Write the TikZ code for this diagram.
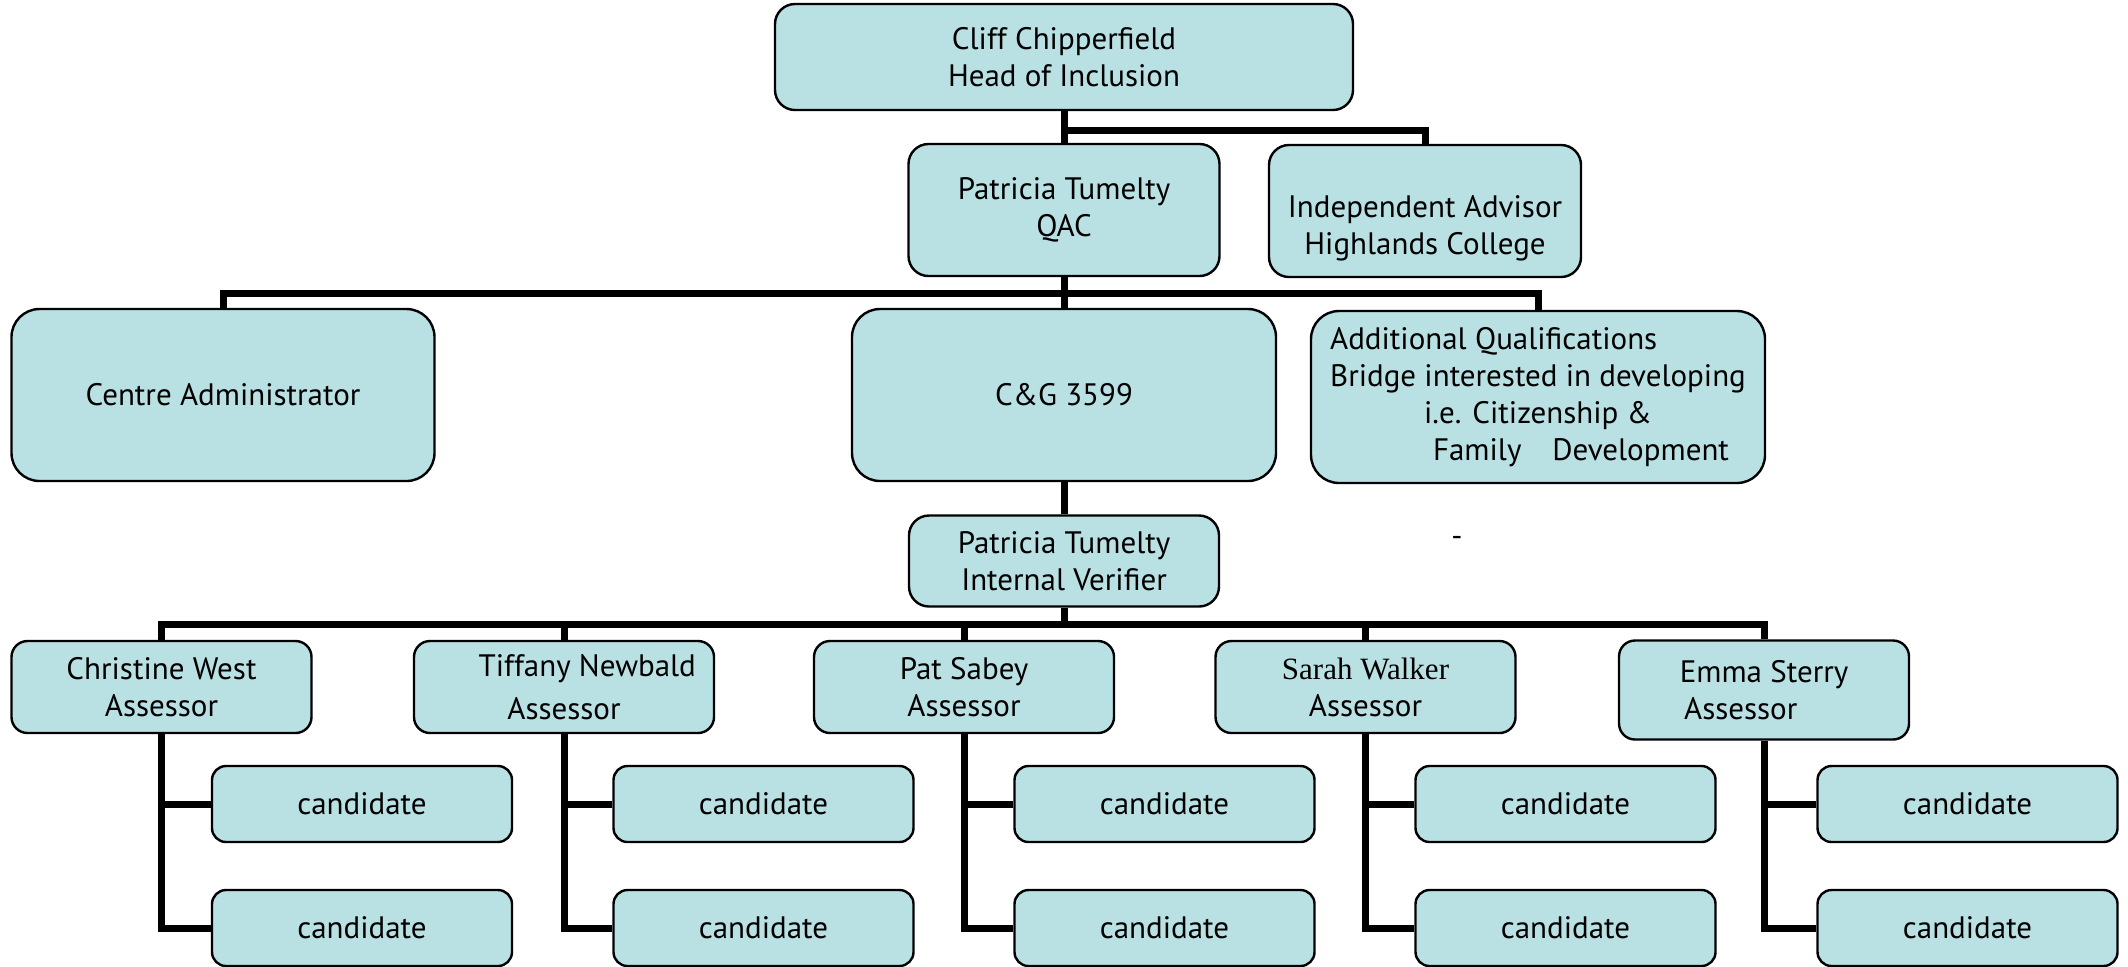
\documentclass[tikz,border=0pt]{standalone}
\usepackage{fontspec}
\setmainfont{PT Sans}
\newfontfamily\serifname{Liberation Serif}
\definecolor{boxfill}{RGB}{185,224,227}

\tikzset{every picture/.style={line width=0.75pt}}
\tikzset{
  orgbox/.style={draw, line width=1.2pt, fill=boxfill, align=center, inner sep=2pt,
    font=\fontsize{15.5}{18.5}\selectfont},
  bigbox/.style={orgbox, rounded corners=14pt, minimum height=86pt},
  midbox/.style={orgbox, rounded corners=10pt},
  assessbox/.style={orgbox, rounded corners=8pt, minimum width=150pt, minimum height=46pt},
  candbox/.style={orgbox, rounded corners=7pt, minimum width=150pt, minimum height=38pt},
  link/.style={line width=3.5pt}
}

\begin{document}
\begin{tikzpicture}[x=0.5pt,y=0.5pt,yscale=-1,xscale=1]
    \useasboundingbox (0,0) rectangle (2128,966);

    % Head
    \node [midbox, minimum width=289pt, minimum height=53pt] (cliff) at (1064,57) {Cliff Chipperfield\\Head of Inclusion};
    % Second row
    \node [midbox, minimum width=155.5pt, minimum height=66pt] (qac) at (1064,210) {Patricia Tumelty\\QAC};
    \node [midbox, minimum width=156pt, minimum height=66pt, text height=47pt] (advisor) at (1425,211) {Independent Advisor\\Highlands College};
    % Third row
    \node [bigbox, minimum width=211.5pt] (admin) at (223,395) {Centre Administrator};
    \node [bigbox, minimum width=212pt] (cg) at (1064,395) {C\&G 3599};
    \node [bigbox, minimum width=227pt] (addq) at (1538,397) {\rlap{Additional Qualifications}\phantom{Bridge interested in developing}\\Bridge interested in developing\\i.e. Citizenship \&\\\hspace*{43pt}Family\quad Development};
    % Verifier
    \node [midbox, minimum width=155pt, minimum height=45.5pt] (iv) at (1064,561) {Patricia Tumelty\\Internal Verifier};
    \node [font=\fontsize{15.5}{18.5}\selectfont] (dash) at (1457,541) {-};

    % Assessors
    \node [assessbox] (cw) at (161.5,687) {Christine West\\Assessor};
    \node [assessbox] (tn) at (564,687) {\hspace*{1.5em}Tiffany Newbald\\[3pt]Assessor};
    \node [assessbox] (ps) at (964,687) {Pat Sabey\\Assessor};
    \node [assessbox] (sw) at (1365.5,687) {{\serifname Sarah Walker}\\Assessor};
    \node [assessbox, minimum width=145pt, minimum height=49.5pt] (es) at (1764,690) {Emma Sterry\\Assessor\hspace*{1.5em}};

    % Candidates
    \foreach \a/\cx in {cw/362,tn/763.5,ps/1164.5,sw/1565.5,es/1967.5}{
      \node [candbox] (\a1) at (\cx,804) {candidate};
      \node [candbox] (\a2) at (\cx,928) {candidate};
    }

    % Connectors
    \coordinate (bus1) at (1064,130);
    \coordinate (bus2) at (1064,293);
    \coordinate (bus3) at (1064,624);
    \draw [link] (cliff.south) -- (qac.north);
    \draw [link] (bus1) -| (advisor.north);
    \draw [link] (qac.south) -- (cg.north);
    \draw [link] (admin.north) |- (bus2) -| (addq.north);
    \draw [link] (cg.south) -- (iv.north);
    \draw [link] (iv.south) -- (bus3);
    \draw [link] (cw.north) |- (bus3) -| (es.north);
    \foreach \a in {tn,ps,sw}{
      \draw [link] (\a.north) -- (\a.north |- bus3);
    }
    \foreach \a in {cw,tn,ps,sw,es}{
      \draw [link] (\a.south) |- (\a1.west);
      \draw [link] (\a.south) |- (\a2.west);
    }

\end{tikzpicture}
\end{document}
